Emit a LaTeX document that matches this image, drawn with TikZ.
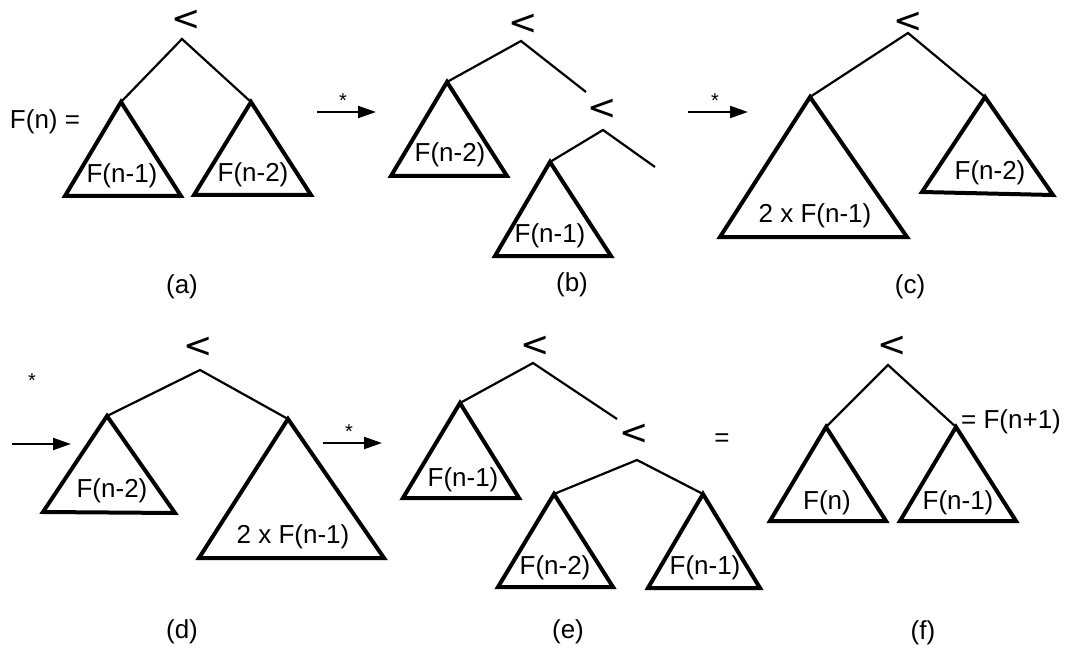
\documentclass[tikz,border=0pt]{standalone}
\usepackage{fontspec}
\setmainfont{Liberation Sans}
\newfontfamily\opfont{DejaVu Sans}
\usetikzlibrary{arrows.meta}

\begin{document}
\begin{tikzpicture}[x=1pt,y=-1pt,
  edge/.style={line width=2.2pt},
  tri/.style={line width=4pt,line join=miter},
  txt/.style={inner sep=0pt,font=\fontsize{26}{30}\selectfont},
  op/.style={inner sep=0pt,font=\opfont\fontsize{35}{38}\selectfont},
  star/.style={inner sep=0pt,font=\fontsize{20}{22}\selectfont},
  imply/.style={line width=2pt,-{Triangle[length=18pt,width=12pt]}}]
  \useasboundingbox (0,0) rectangle (1069,650);

  % ---- comparison symbols ----
  \foreach \n/\x/\y in {aop/186/20, bop/523/24, bop2/602/109, cop/908/22,
                        dop/198/347, eop/535/346, eop2/634/434, fop/892/346}{
    \node[op] (\n) at (\x,\y) {<};
  }

  % ---- tree vertices ----
  \foreach \n/\x/\y in {a0/182/39, a1/121/102, a2/251/102,
                        b0/521/41, b1/447/82, b2/586/92, b3/603/130, b4/550/162, b5/655/167,
                        c0/908/33, c1/810/97, c2/985/97,
                        d0/200/370, d1/107/416, d2/288/419,
                        e0/533/363, e1/460/403, e2/617/419, e3/637/460, e4/554/494, e5/703/494,
                        f0/888/365, f1/826/427, f2/956/427}{
    \coordinate (\n) at (\x,\y);
  }
  \foreach \p/\u/\v in {a0/a1/a2, b0/b1/b2, b3/b4/b5, c0/c1/c2,
                        d0/d1/d2, e0/e1/e2, e3/e4/e5, f0/f1/f2}{
    \draw[edge] (\u) -- (\p) -- (\v);
  }

  % ---- subtrees (apex, base left, base right, label) ----
  \foreach \n/\ap/\lx/\ly/\rx/\ry/\tx/\ty/\lbl in {
      ta1/a1/65/196/181/196/122/176/{F(n-1)},
      ta2/a2/194/195/311/195/253/175/{F(n-2)},
      tb1/b1/391/176/507/176/450/155/{F(n-2)},
      tb4/b4/495/256/611/256/550/236/{F(n-1)},
      tc1/c1/720/237/907/237/815/216/{2 x F(n-1)},
      tc2/c2/922/192/1053/195/990/173/{F(n-2)},
      td1/d1/43/512/175/513/112/491/{F(n-2)},
      td2/d2/199/558/384/558/293/537/{2 x F(n-1)},
      te1/e1/403/498/519/498/463/480/{F(n-1)},
      te4/e4/498/587/613/587/555/568/{F(n-2)},
      te5/e5/648/588/760/588/705/568/{F(n-1)},
      tf1/f1/770/521/886/521/827/503/{F(n)},
      tf2/f2/900/521/1016/521/958/503/{F(n-1)}}{
    \draw[tri] (\ap) -- (\lx,\ly) -- (\rx,\ry) -- cycle;
    \node[txt] (\n) at (\tx,\ty) {\lbl};
  }

  % ---- equations and captions ----
  \node[txt] (fn) at (45,122) {F(n) =};
  \node[txt] (eeq) at (722,440) {=};
  \node[txt,anchor=west] (fnext) at (961,422) {= F(n+1)};
  \foreach \n/\x/\y/\lbl in {capa/182/287/{(a)}, capb/572/285/{(b)}, capc/910/287/{(c)},
                             capd/182/632/{(d)}, cape/568/632/{(e)}, capf/923/633/{(f)}}{
    \node[txt] (\n) at (\x,\y) {\lbl};
  }

  % ---- derivation arrows ----
  \foreach \n/\x/\y/\xe/\sx/\sy in {ab/317/112/376/343/101, bc/688/112/748/715/101,
                                    din/12/444/71/32/381, dout/323/443/382/349/432}{
    \coordinate (\n-s) at (\x,\y);
    \coordinate (\n-e) at (\xe,\y);
    \draw[imply] (\n-s) -- (\n-e);
    \node[star] (\n-st) at (\sx,\sy) {*};
  }
\end{tikzpicture}
\end{document}
